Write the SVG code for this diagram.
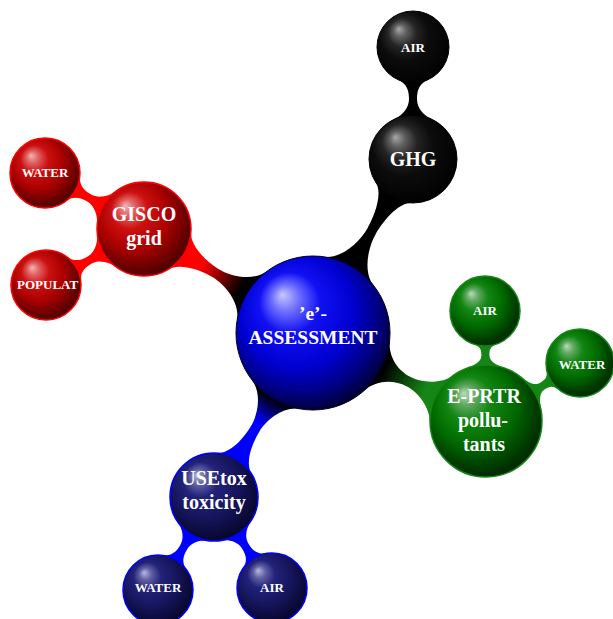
<svg xmlns="http://www.w3.org/2000/svg" width="613" height="619" viewBox="0 0 613 619">
<style>
.t{font-family:"Liberation Serif","Times New Roman",serif;font-weight:bold;fill:#fff;text-anchor:middle}
.big{font-size:20px}
.sm{font-size:13px}
</style>
<defs>
<radialGradient id="bBlue" cx="0.45" cy="0.42" r="0.62" fx="0.3" fy="0.25">
<stop offset="0" stop-color="#c8c8ff"/><stop offset="0.14" stop-color="#7070ff"/><stop offset="0.32" stop-color="#1010f4"/><stop offset="0.6" stop-color="#0000d0"/><stop offset="0.82" stop-color="#000080"/><stop offset="1" stop-color="#000020"/>
</radialGradient>
<radialGradient id="bBlack" cx="0.45" cy="0.42" r="0.62" fx="0.3" fy="0.25">
<stop offset="0" stop-color="#a8a8a8"/><stop offset="0.14" stop-color="#606060"/><stop offset="0.32" stop-color="#242424"/><stop offset="0.55" stop-color="#0c0c0c"/><stop offset="1" stop-color="#000"/>
</radialGradient>
<radialGradient id="bRed" cx="0.45" cy="0.42" r="0.62" fx="0.3" fy="0.25">
<stop offset="0" stop-color="#f4b4b4"/><stop offset="0.14" stop-color="#e06060"/><stop offset="0.32" stop-color="#cc1010"/><stop offset="0.6" stop-color="#aa0000"/><stop offset="0.82" stop-color="#700000"/><stop offset="1" stop-color="#400000"/>
</radialGradient>
<radialGradient id="bGreen" cx="0.45" cy="0.42" r="0.62" fx="0.3" fy="0.25">
<stop offset="0" stop-color="#b8dcb8"/><stop offset="0.14" stop-color="#60a860"/><stop offset="0.32" stop-color="#128612"/><stop offset="0.6" stop-color="#006a00"/><stop offset="0.82" stop-color="#004000"/><stop offset="1" stop-color="#002000"/>
</radialGradient>
<radialGradient id="bNavy" cx="0.45" cy="0.42" r="0.62" fx="0.3" fy="0.25">
<stop offset="0" stop-color="#b8b8e0"/><stop offset="0.14" stop-color="#6060a4"/><stop offset="0.32" stop-color="#22227a"/><stop offset="0.6" stop-color="#16165e"/><stop offset="0.82" stop-color="#0c0c40"/><stop offset="1" stop-color="#050520"/>
</radialGradient>
<linearGradient id="gR" gradientUnits="userSpaceOnUse" x1="85" y1="0" x2="130" y2="0"><stop offset="0" stop-color="#000"/><stop offset="1" stop-color="#ff0000"/></linearGradient>
<linearGradient id="gG" gradientUnits="userSpaceOnUse" x1="80" y1="0" x2="125" y2="0"><stop offset="0" stop-color="#000"/><stop offset="1" stop-color="#158515"/></linearGradient>
<linearGradient id="gB" gradientUnits="userSpaceOnUse" x1="76" y1="0" x2="105" y2="0"><stop offset="0" stop-color="#000"/><stop offset="1" stop-color="#0000ff"/></linearGradient>
</defs>

<g id="connectors">
<path transform="translate(313,333) rotate(-60.1)" fill="#000" d="M71.4,-28.8 C78.1,-12.1 102.9,-5 116.9,-5 C130.9,-5 155.3,-8.3 161.9,-20.7 L161.9,20.7 C155.3,8.3 130.9,5 116.9,5 C102.9,5 78.1,12.1 71.4,28.8 Z"/>
<path transform="translate(313,333) rotate(-148.4)" fill="url(#gR)" d="M71.4,-28.8 C78.1,-12.1 100.2,-5 114.2,-5 C128.2,-5 150.3,-9.7 156.9,-22.1 L156.9,22.1 C150.3,9.7 128.2,5 114.2,5 C100.2,5 78.1,12.1 71.4,28.8 Z"/>
<path transform="translate(313,333) rotate(27)" fill="url(#gG)" d="M71.4,-28.8 C78.1,-12.1 93.55,-5 107.55,-5 C121.55,-5 138.1,-13.9 144.7,-26.3 L144.7,26.3 C138.1,13.9 121.55,5 107.55,5 C93.55,5 78.1,12.1 71.4,28.8 Z"/>
<path transform="translate(313,333) rotate(121.1)" fill="url(#gB)" d="M71.4,-28.8 C78.1,-12.1 98.3,-5 112.3,-5 C126.3,-5 146.2,-8.3 152.8,-20.7 L152.8,20.7 C146.2,8.3 126.3,5 112.3,5 C98.3,5 78.1,12.1 71.4,28.8 Z"/>
<path transform="translate(413,159) rotate(-90)" fill="#000" d="M39.9,-18.6 C44.1,-9.5 52,-4 60,-4 C68,-4 75.2,-6.1 79.4,-15.2 L79.4,15.2 C75.2,6.1 68,4 60,4 C52,4 44.1,9.5 39.9,18.6 Z"/>
<path transform="translate(144,229) rotate(-150.5)" fill="#ff0000" d="M42.6,-19.9 C46.8,-10.8 54.85,-4 62.85,-4 C70.85,-4 77.8,-5.7 82,-14.8 L82,14.8 C77.8,5.7 70.85,4 62.85,4 C54.85,4 46.8,10.8 42.6,19.9 Z"/>
<path transform="translate(144,229) rotate(150.3)" fill="#ff0000" d="M42.6,-19.9 C46.8,-10.8 54.45,-4 62.45,-4 C70.45,-4 77,-5.7 81.2,-14.8 L81.2,14.8 C77,5.7 70.45,4 62.45,4 C54.45,4 46.8,10.8 42.6,19.9 Z"/>
<path transform="translate(486,421) rotate(-90.5)" fill="#158515" d="M50.8,-23.7 C55,-14.6 57.5,-4 65.5,-4 C73.5,-4 74.1,-5.7 78.3,-14.8 L78.3,14.8 C74.1,5.7 73.5,4 65.5,4 C57.5,4 55,14.6 50.8,23.7 Z"/>
<path transform="translate(486,421) rotate(-31.7)" fill="#158515" d="M50.8,-23.7 C55,-14.6 58.25,-4 66.25,-4 C74.25,-4 75.5,-5.3 79.7,-14.4 L79.7,14.4 C75.5,5.3 74.25,4 66.25,4 C58.25,4 55,14.6 50.8,23.7 Z"/>
<path transform="translate(214,497) rotate(121.1)" fill="#0000ff" d="M39.9,-18.6 C44.1,-9.5 50.8,-4 58.8,-4 C66.8,-4 72.7,-5.7 76.9,-14.8 L76.9,14.8 C72.7,5.7 66.8,4 58.8,4 C50.8,4 44.1,9.5 39.9,18.6 Z"/>
<path transform="translate(214,497) rotate(57.5)" fill="#0000ff" d="M39.9,-18.6 C44.1,-9.5 50.45,-4 58.45,-4 C66.45,-4 72,-5.7 76.2,-14.8 L76.2,14.8 C72,5.7 66.45,4 58.45,4 C50.45,4 44.1,9.5 39.9,18.6 Z"/>
</g>

<g id="center">
<circle cx="313" cy="333" r="77" fill="url(#bBlue)" stroke="#000018" stroke-width="1"/>
<text class="t" x="313" y="320" font-size="19.5">’e’-</text>
<text class="t" x="313" y="344" font-size="19.5">ASSESSMENT</text>
</g>

<g id="ghg">
<circle cx="413" cy="159" r="44" fill="url(#bBlack)" stroke="#000" stroke-width="1"/>
<text class="t big" x="413" y="166">GHG</text>
</g>
<g id="ghg-air">
<circle cx="413" cy="47" r="36" fill="url(#bBlack)" stroke="#000" stroke-width="1"/>
<text class="t sm" x="413" y="52">AIR</text>
</g>

<g id="gisco">
<circle cx="144" cy="229" r="47" fill="url(#bRed)" stroke="#ff0000" stroke-width="1.5"/>
<text class="t big" x="144" y="221">GISCO</text>
<text class="t big" x="144" y="245">grid</text>
</g>
<g id="gisco-water">
<circle cx="45" cy="173" r="35" fill="url(#bRed)" stroke="#ff0000" stroke-width="1.5"/>
<text class="t sm" x="45" y="177">WATER</text>
</g>
<g id="gisco-popul">
<circle cx="46" cy="285" r="35" fill="url(#bRed)" stroke="#ff0000" stroke-width="1.5"/>
<text class="t sm" x="17" y="289" style="text-anchor:start">POPULAT</text>
</g>

<g id="eprtr">
<circle cx="486" cy="421" r="56" fill="url(#bGreen)" stroke="#158515" stroke-width="1.5"/>
<text class="t big" x="484" y="403">E-PRTR</text>
<text class="t big" x="483" y="427">pollu-</text>
<text class="t big" x="484" y="451">tants</text>
</g>
<g id="eprtr-air">
<circle cx="485" cy="311" r="35" fill="url(#bGreen)" stroke="#158515" stroke-width="1.5"/>
<text class="t sm" x="485" y="315">AIR</text>
</g>
<g id="eprtr-water">
<circle cx="580" cy="363" r="34" fill="url(#bGreen)" stroke="#158515" stroke-width="1.5"/>
<text class="t sm" x="582" y="369">WATER</text>
</g>

<g id="usetox">
<circle cx="214" cy="497" r="44" fill="url(#bNavy)" stroke="#0000ff" stroke-width="1.5"/>
<text class="t big" x="214" y="485">USEtox</text>
<text class="t big" x="214" y="509">toxicity</text>
</g>
<g id="usetox-water">
<circle cx="158" cy="590" r="35" fill="url(#bNavy)" stroke="#0000ff" stroke-width="1.5"/>
<text class="t sm" x="158" y="592">WATER</text>
</g>
<g id="usetox-air">
<circle cx="272" cy="588" r="35" fill="url(#bNavy)" stroke="#0000ff" stroke-width="1.5"/>
<text class="t sm" x="272" y="592">AIR</text>
</g>
</svg>
